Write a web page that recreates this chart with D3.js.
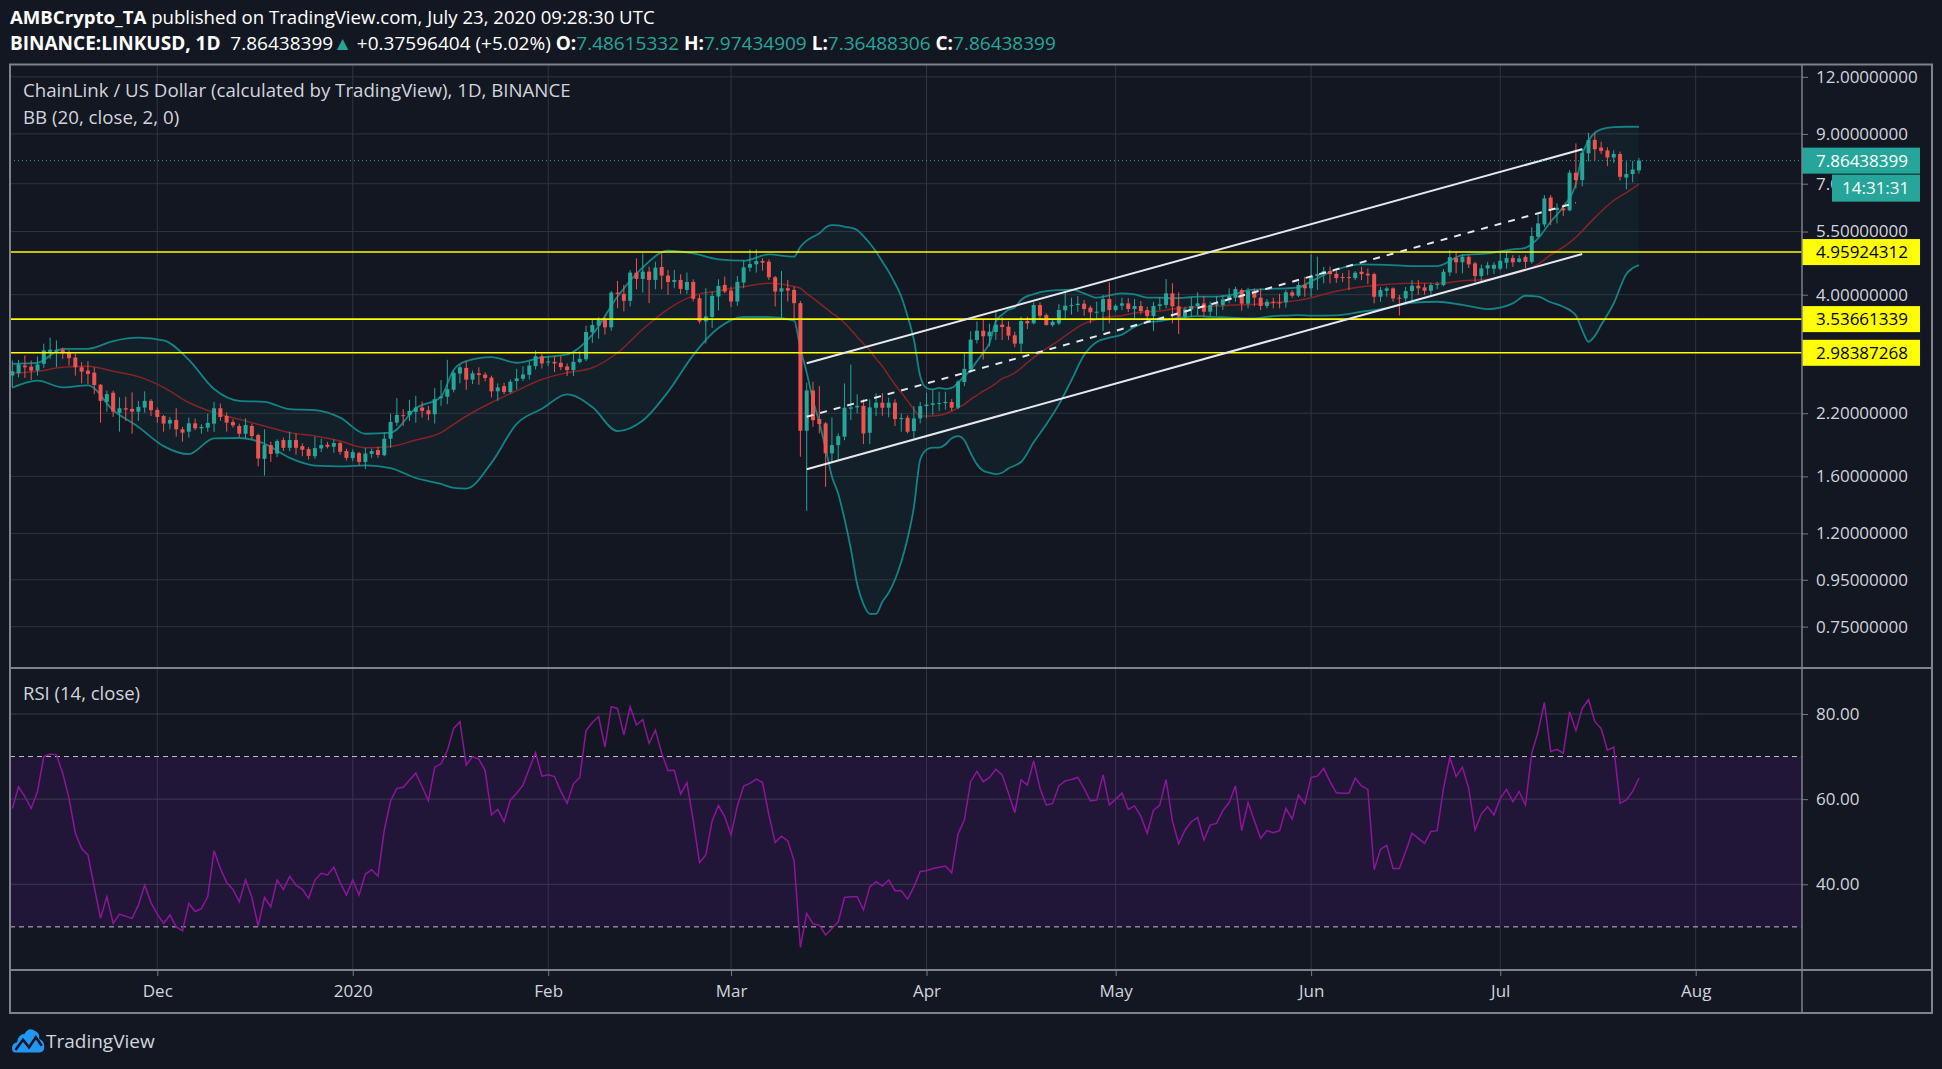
<!DOCTYPE html>
<html>
<head>
<meta charset="utf-8">
<script src="https://cdn.jsdelivr.net/npm/d3@7"></script>
<style>
body { margin:0; background:#131722; }
svg text { font-family: "Open Sans", "Noto Sans", sans-serif; }
</style>
</head>
<body>
<div id="chart-area"></div>
<script>

// ---- DATA ----
var firstDay = "2019-11-08"

var openP = [2.660,2.691,2.797,2.783,2.728,2.822,2.999,3.005,3.030,2.984,2.914,2.774,2.728,2.700,2.540,2.330,2.440,2.204,2.256,2.249,
2.218,2.264,2.342,2.237,2.170,2.088,2.127,2.029,2.005,2.091,2.039,2.046,2.088,2.256,2.170,2.105,2.063,1.984,2.063,1.971,
1.748,1.874,1.795,1.922,1.848,1.922,1.864,1.836,1.771,1.842,1.877,1.858,1.893,1.818,1.754,1.799,1.721,1.792,1.827,1.780,
1.935,2.098,2.178,2.178,2.215,2.264,2.233,2.189,2.375,2.391,2.477,2.687,2.765,2.606,2.691,2.673,2.633,2.457,2.523,2.448,
2.587,2.618,2.671,2.790,2.933,2.842,2.851,2.837,2.785,2.734,2.847,2.889,3.309,3.421,3.526,3.393,4.043,4.017,3.878,4.471,
4.331,4.494,4.309,4.599,4.404,4.266,4.309,4.098,4.266,3.930,3.496,3.574,3.963,4.202,4.084,3.865,4.252,4.584,4.661,4.740,
4.724,4.368,4.064,4.132,4.098,3.833,2.014,2.468,2.137,2.090,1.797,1.873,1.955,2.251,2.266,2.284,1.994,2.262,2.320,2.262,
2.320,2.136,2.151,2.011,2.143,2.280,2.295,2.309,2.316,2.328,2.262,2.575,2.743,3.183,3.336,3.243,3.314,3.439,3.404,3.259,
3.125,3.503,3.462,3.797,3.610,3.433,3.462,3.696,3.785,3.797,3.823,3.747,3.659,3.671,3.913,3.702,3.785,3.829,3.722,3.778,
3.702,3.592,3.778,3.797,4.027,3.772,3.580,3.709,3.778,3.829,3.671,3.797,3.797,3.907,3.940,4.095,3.823,4.074,3.940,3.778,
3.861,3.848,3.848,4.047,3.980,4.199,4.130,4.394,4.438,4.506,4.446,4.372,4.372,4.349,4.491,4.446,4.438,3.959,4.080,4.129,
3.940,3.926,4.074,4.185,4.150,4.080,4.199,4.199,4.476,4.812,4.710,4.843,4.683,4.394,4.566,4.560,4.560,4.700,4.812,4.720,
4.840,4.720,5.358,5.700,6.530,6.130,6.180,6.120,7.400,7.130,8.160,8.730,8.400,8.280,7.990,8.130,7.220,7.350,7.48615332]

var highP = [2.870,2.880,2.944,2.870,2.929,3.124,3.220,3.177,3.060,3.020,2.969,2.846,2.860,2.774,2.549,2.465,2.465,2.383,2.391,2.444,
2.342,2.457,2.362,2.264,2.181,2.159,2.256,2.053,2.152,2.141,2.081,2.196,2.330,2.311,2.207,2.134,2.088,2.145,2.088,1.984,
2.029,1.906,1.929,1.945,2.005,1.988,1.890,1.855,1.955,1.935,1.903,1.929,1.906,1.839,1.833,1.811,1.848,1.842,1.858,1.995,
2.196,2.375,2.245,2.354,2.403,2.334,2.283,2.498,2.602,2.880,2.728,2.807,2.860,2.728,2.774,2.705,2.660,2.558,2.566,2.609,
2.752,2.790,2.861,3.018,2.968,2.933,2.933,2.943,2.828,2.983,3.008,3.421,3.538,3.568,3.574,4.077,4.288,4.202,4.531,4.804,
4.926,4.607,4.724,4.926,4.531,4.531,4.434,4.471,4.324,3.996,4.132,4.064,4.324,4.382,4.167,4.397,4.764,5.026,5.026,4.804,
4.780,4.397,4.509,4.309,4.167,3.876,2.566,2.579,2.523,2.104,2.155,1.987,2.557,2.812,2.420,2.360,2.360,2.432,2.436,2.380,
2.360,2.198,2.177,2.280,2.328,2.440,2.481,2.452,2.452,2.364,2.600,2.983,3.326,3.496,3.526,3.456,3.689,3.574,3.496,3.319,
3.580,3.580,3.848,3.848,3.640,3.550,3.810,4.061,3.940,3.973,3.894,3.785,3.861,3.993,4.256,3.810,3.940,3.927,3.913,3.874,
3.766,3.861,3.953,4.327,4.235,4.047,3.766,3.953,4.047,3.973,3.861,3.973,3.993,4.130,4.164,4.130,4.144,4.130,4.130,3.913,
3.940,4.020,4.095,4.095,4.271,4.379,4.909,4.843,4.603,4.611,4.529,4.461,4.529,4.506,4.603,4.566,4.468,4.160,4.165,4.150,
3.994,4.160,4.306,4.306,4.234,4.248,4.270,4.551,5.008,4.967,4.909,4.884,4.722,4.657,4.722,4.710,4.967,4.967,4.884,4.880,
4.880,5.620,6.031,6.610,6.610,6.340,6.310,7.500,8.580,8.370,9.050,9.050,8.650,8.410,8.280,8.230,7.830,7.860,7.97434909]

var lowP = [2.506,2.637,2.628,2.602,2.660,2.765,2.894,2.774,2.894,2.798,2.660,2.558,2.549,2.423,2.098,2.218,2.159,2.005,2.116,1.984,
2.116,2.207,2.170,2.098,2.005,2.029,1.955,1.906,1.945,2.019,1.984,2.005,2.002,2.116,2.005,2.046,1.952,1.939,1.929,1.683,
1.606,1.721,1.763,1.818,1.818,1.786,1.771,1.742,1.748,1.808,1.842,1.802,1.786,1.733,1.727,1.690,1.660,1.757,1.757,1.771,
1.848,2.063,2.063,2.116,2.098,2.152,2.123,2.088,2.283,2.303,2.444,2.558,2.477,2.549,2.540,2.584,2.383,2.342,2.420,2.432,
2.481,2.587,2.609,2.743,2.757,2.790,2.707,2.734,2.653,2.653,2.828,2.861,3.136,3.205,3.270,3.336,3.738,3.677,3.770,4.112,
4.043,3.833,4.112,4.112,3.996,4.132,4.017,4.017,3.865,3.456,3.126,3.381,3.695,4.030,3.757,3.782,4.132,4.494,4.471,4.516,
4.309,3.770,3.574,3.865,3.556,1.767,1.345,2.055,1.987,1.518,1.714,1.737,1.921,2.125,2.198,1.883,1.883,2.169,2.173,2.155,
2.062,2.004,1.987,1.937,2.090,2.143,2.180,2.226,2.240,2.226,2.244,2.523,2.698,3.126,2.885,3.084,3.183,3.183,3.183,3.068,
2.976,3.364,3.445,3.538,3.422,3.403,3.433,3.550,3.616,3.671,3.598,3.462,3.550,3.330,3.462,3.671,3.702,3.665,3.544,3.622,
3.491,3.330,3.702,3.734,3.462,3.280,3.544,3.580,3.610,3.585,3.580,3.598,3.702,3.829,3.861,3.690,3.734,3.772,3.702,3.734,
3.734,3.734,3.747,3.940,3.953,3.959,3.959,4.094,4.234,4.234,4.248,4.262,4.094,4.305,4.305,4.220,3.828,3.860,3.959,3.860,
3.602,3.860,3.892,4.001,4.001,4.001,4.109,4.171,4.398,4.454,4.454,4.576,4.262,4.262,4.412,4.440,4.520,4.560,4.600,4.700,
4.570,4.680,5.340,5.620,5.680,5.730,5.950,6.090,6.840,6.900,7.830,7.870,8.130,7.650,7.780,7.110,6.800,7.050,7.36488306]

var closeP = [2.719,2.813,2.774,2.728,2.813,3.020,3.030,3.030,2.979,2.904,2.774,2.714,2.682,2.536,2.342,2.423,2.218,2.256,2.241,2.218,
2.271,2.342,2.233,2.159,2.088,2.127,2.029,1.995,2.091,2.039,2.053,2.095,2.256,2.159,2.098,2.070,1.984,2.074,1.961,1.751,
1.874,1.792,1.912,1.848,1.922,1.848,1.830,1.774,1.845,1.874,1.858,1.893,1.811,1.757,1.808,1.721,1.796,1.818,1.783,1.935,
2.105,2.181,2.170,2.226,2.264,2.226,2.189,2.362,2.391,2.485,2.696,2.774,2.606,2.691,2.669,2.628,2.457,2.506,2.448,2.579,
2.622,2.675,2.799,2.933,2.828,2.856,2.828,2.776,2.734,2.851,2.894,3.314,3.433,3.526,3.393,4.043,4.017,3.878,4.471,4.331,
4.494,4.309,4.584,4.404,4.266,4.309,4.118,4.266,3.917,3.496,3.585,3.976,4.181,4.064,3.865,4.266,4.592,4.669,4.740,4.701,
4.368,4.064,4.132,4.084,3.833,2.014,2.468,2.125,2.083,1.797,1.873,1.960,2.262,2.266,2.284,1.987,2.266,2.320,2.262,2.320,
2.136,2.147,2.004,2.143,2.280,2.298,2.312,2.316,2.330,2.262,2.579,2.752,3.189,3.336,3.243,3.320,3.439,3.398,3.254,3.125,
3.503,3.462,3.797,3.598,3.433,3.491,3.702,3.785,3.797,3.823,3.722,3.659,3.671,3.913,3.702,3.785,3.829,3.722,3.778,3.684,
3.592,3.778,3.810,4.027,3.772,3.580,3.715,3.778,3.829,3.671,3.797,3.810,3.907,3.973,4.116,3.823,4.074,3.940,3.778,3.861,
3.848,3.829,4.047,3.980,4.200,4.130,4.394,4.438,4.506,4.438,4.349,4.349,4.364,4.469,4.438,4.408,3.959,4.094,4.129,3.926,
3.926,4.074,4.185,4.130,4.080,4.199,4.220,4.491,4.833,4.710,4.843,4.660,4.394,4.566,4.643,4.650,4.747,4.812,4.710,4.800,
4.720,5.375,5.731,6.500,6.130,6.200,6.120,7.400,7.130,8.180,8.730,8.330,8.260,7.990,8.130,7.250,7.350,7.520,7.86438399]

var rsiValues = [57.8,62.9,60.6,57.8,61.8,70.0,70.6,70.4,66.1,60.2,
52.0,48.4,46.9,39.4,32.0,37.1,30.8,33.0,32.5,32.0,
35.1,39.8,35.7,33.0,30.8,32.8,30.0,29.1,35.5,33.6,
34.3,37.1,47.9,43.7,40.4,38.8,35.9,41.0,36.9,30.2,
36.9,34.7,41.0,38.8,41.9,39.8,38.8,36.7,41.0,42.6,
42.2,44.0,40.4,37.5,41.0,37.5,42.4,43.4,41.9,52.7,
59.6,62.5,62.8,64.5,66.1,62.9,59.6,67.5,68.3,71.4,
76.6,78.2,68.0,70.0,69.4,66.7,56.3,57.6,54.7,59.8,
61.4,63.3,67.2,70.9,65.4,65.7,65.3,61.8,59.0,63.6,
65.1,76.1,78.0,79.4,72.2,81.7,81.3,75.1,81.7,77.4,
78.7,73.1,76.2,70.8,66.7,66.8,61.2,63.9,55.1,45.1,
46.9,54.9,58.5,55.9,51.6,58.4,63.1,63.7,64.7,63.9,
56.3,49.8,51.3,50.2,45.5,25.2,33.2,30.7,30.4,28.1,
29.6,31.2,36.9,37.1,37.1,34.0,39.4,40.6,39.6,41.0,
38.5,38.5,36.5,39.4,43.0,43.2,43.7,44.0,44.3,42.7,
51.8,55.1,64.1,
66.5,64.1,65.1,67.0,65.7,61.4,56.8,64.5,63.3,69.0,
62.5,58.6,59.0,63.1,64.3,64.6,65.1,62.5,59.6,59.8,
65.7,58.6,60.0,61.4,57.6,58.4,56.0,52.0,57.4,58.6,
64.6,54.9,49.5,52.7,54.7,55.7,50.4,53.9,54.3,57.3,
59.2,63.1,52.6,59.2,54.9,50.8,52.6,52.1,52.6,57.8,
55.3,61.0,58.9,65.1,65.4,67.2,64.1,61.5,61.4,61.4,
64.9,63.1,62.3,43.4,48.2,49.2,43.7,43.7,47.7,52.0,
50.8,49.6,52.4,52.6,62.5,69.8,65.3,67.5,62.5,52.7,
56.5,58.2,56.3,60.2,62.3,59.4,61.8,58.6,70.8,75.8,
82.7,71.2,71.7,70.8,80.5,76.1,81.3,83.4,78.2,76.6,
71.5,72.2,59.0,59.8,61.8,64.9]

// Bollinger Bands (20, close, 2) read at sample days
var bbDates = ["2019-11-08","2019-11-12","2019-11-16","2019-11-20","2019-11-24","2019-11-28","2019-12-02","2019-12-06","2019-12-10","2019-12-14",
"2019-12-18","2019-12-22","2019-12-26","2019-12-30","2020-01-03","2020-01-07","2020-01-11","2020-01-15","2020-01-17","2020-01-19",
"2020-01-23","2020-01-27","2020-01-31","2020-02-04","2020-02-08","2020-02-12","2020-02-16","2020-02-20","2020-02-24","2020-02-28",
"2020-03-03","2020-03-07","2020-03-11",
"2020-03-12","2020-03-13","2020-03-14","2020-03-15","2020-03-16","2020-03-17","2020-03-18","2020-03-19","2020-03-20","2020-03-21",
"2020-03-22","2020-03-23","2020-03-24","2020-03-25","2020-03-26","2020-03-27","2020-03-28","2020-03-29","2020-03-30","2020-03-31",
"2020-04-01","2020-04-02","2020-04-03","2020-04-04","2020-04-05","2020-04-06","2020-04-07","2020-04-08","2020-04-09","2020-04-10",
"2020-04-11","2020-04-12","2020-04-13","2020-04-14","2020-04-15",
"2020-04-16","2020-04-18","2020-04-20","2020-04-22","2020-04-24","2020-04-26","2020-04-28","2020-04-30","2020-05-02","2020-05-04",
"2020-05-06","2020-05-08","2020-05-10","2020-05-12","2020-05-14","2020-05-16","2020-05-18","2020-05-20","2020-05-22","2020-05-24",
"2020-05-26","2020-05-28","2020-05-30","2020-06-01",
"2020-06-05","2020-06-09","2020-06-13","2020-06-17","2020-06-21","2020-06-25","2020-06-29","2020-07-03","2020-07-05","2020-07-07",
"2020-07-09","2020-07-11","2020-07-13","2020-07-14","2020-07-15","2020-07-16","2020-07-17","2020-07-19","2020-07-21","2020-07-23"]

var bbUpper = [2.822,2.837,3.045,3.045,3.166,3.220,3.177,2.880,2.486,2.342,2.330,2.245,2.234,2.152,1.984,1.995,2.256,2.391,2.737,2.860,
2.919,2.838,2.915,2.959,3.270,3.963,4.592,4.992,4.926,4.780,4.748,4.900,4.844,
5.094,5.253,5.358,5.449,5.615,5.681,5.672,5.634,5.606,5.540,5.376,5.184,4.967,4.724,4.494,4.238,3.963,3.585,3.189,2.653,
2.499,2.481,2.499,2.488,2.499,2.566,2.653,2.734,2.861,2.983,3.136,3.496,3.616,3.707,3.751,
3.894,4.013,4.074,4.095,4.102,4.027,3.940,3.987,4.027,4.007,3.940,3.940,3.927,3.940,3.960,3.960,3.973,4.013,4.095,4.109,
4.123,4.130,4.151,4.280,
4.539,4.660,4.650,4.621,4.621,4.885,4.926,5.026,5.068,5.313,5.779,6.233,7.011,8.100,8.700,9.050,9.210,9.310,9.330,9.330]

var bbBasis = [2.691,2.719,2.774,2.788,2.719,2.646,2.506,2.322,2.207,2.134,2.063,1.995,1.961,1.912,1.848,1.861,1.922,1.995,2.081,2.167,
2.322,2.465,2.609,2.698,2.767,2.985,3.360,3.720,3.977,4.077,4.167,4.238,4.167,
4.132,4.023,3.930,3.833,3.738,3.646,3.568,3.467,3.353,3.232,3.126,3.023,2.894,2.790,2.661,2.543,2.440,2.341,2.242,2.169,
2.169,2.169,2.177,2.195,2.225,2.262,2.301,2.360,2.408,2.461,2.502,2.557,2.619,2.653,2.698,
2.762,2.917,3.047,3.176,3.323,3.458,3.528,3.579,3.598,3.647,3.671,3.684,3.722,3.747,3.759,3.766,3.785,3.797,3.803,3.816,
3.842,3.861,3.887,3.939,
4.072,4.163,4.212,4.238,4.234,4.291,4.324,4.440,4.523,4.666,4.887,5.082,5.342,5.516,5.710,5.893,6.087,6.432,6.692,6.986]

var bbLower = [2.502,2.593,2.506,2.532,2.234,2.053,1.864,1.790,1.939,1.942,1.886,1.757,1.690,1.683,1.692,1.669,1.587,1.540,1.510,1.505,
1.713,2.085,2.250,2.420,2.270,2.010,2.120,2.450,2.950,3.380,3.574,3.574,3.508,
3.05,2.70,2.35,2.10,1.84,1.60,1.465,1.29,1.11,0.93,0.84,0.80,0.80,0.85,0.89,0.95,1.04,1.17,1.37,1.74,
1.83,1.85,1.85,1.88,1.94,1.96,1.92,1.80,1.70,1.646,1.630,1.619,1.630,1.666,1.69,
1.72,1.90,2.08,2.30,2.60,2.95,3.15,3.22,3.27,3.40,3.48,3.50,3.54,3.57,3.59,3.578,3.57,3.56,3.55,3.56,
3.59,3.60,3.61,3.60,
3.605,3.670,3.740,3.841,3.860,3.800,3.720,3.828,3.979,3.959,3.850,3.764,3.600,3.346,3.155,3.250,3.432,3.829,4.440,4.645]

var levelPrices = [4.95924312, 3.53661339, 2.98387268]
var lastPrice = 7.86438399
var countdown = "14:31:31"

// trend channel drawn by the author: [date, price]
var channelTop = [["2020-03-13", 2.830], ["2020-07-14", 8.326]]
var channelBottom = [["2020-03-13", 1.658], ["2020-07-14", 4.911]]
var channelMid = [["2020-03-13", 2.161], ["2020-07-13", 6.360]]

var priceTicks = [0.75, 0.95, 1.2, 1.6, 2.2, 4, 5.5, 7, 9, 12]
var rsiTicks = [40, 60, 80]
var rsiBands = [70, 30]
var monthDates = ["2019-12-01","2020-01-01","2020-02-01","2020-03-01","2020-04-01","2020-05-01","2020-06-01","2020-07-01","2020-08-01"]
var monthLabels = ["Dec","2020","Feb","Mar","Apr","May","Jun","Jul","Aug"]

// ---- LAYOUT ----
var W = 1942, H = 1069
var frameL = 10, frameR = 1932, frameT = 64.5, frameB = 1013
var axisX = 1802, split = 668, timeTop = 970
var bg = '#131722', grid = '#2f3440', txt = '#d1d4dc', up = '#26a69a', down = '#ef5350'
var axisFont = 17, legendFont = 18.7, headFont = 19

var parse = d3.utcParse('%Y-%m-%d')
var start = parse(firstDay)

var svg = d3.select('#chart-area').append('svg')
	.attr('width', W).attr('height', H)
svg.append('rect').attr('width', W).attr('height', H).attr('fill', bg)

// scales
var x = d3.scaleUtc()
	.domain([parse(monthDates[0]), parse(monthDates[8])])
	.range([157.3, 1695.7])
var y = d3.scaleLog().domain([0.6088, 12.77]).range([split, frameT])
var yRsi = d3.scaleLinear().domain([19.87, 90.8]).range([timeTop, split])

var candles = closeP.map(function(c, i){
	return {date: d3.utcDay.offset(start, i), o: openP[i], h: highP[i], l: lowP[i], c: c, rsi: rsiValues[i]}
})
var bb = bbDates.map(function(d, i){
	return {date: parse(d), u: bbUpper[i], m: bbBasis[i], l: bbLower[i]}
})

// clip paths
var defs = svg.append('defs')
defs.append('clipPath').attr('id', 'mainClip').append('rect')
	.attr('x', frameL).attr('y', frameT).attr('width', axisX - frameL).attr('height', split - frameT)
defs.append('clipPath').attr('id', 'rsiClip').append('rect')
	.attr('x', frameL).attr('y', split).attr('width', axisX - frameL).attr('height', timeTop - split)

// ---- HEADER ----
var h1 = svg.append('text').attr('x', 10).attr('y', 24).attr('font-size', 18.6).attr('fill', '#ffffff').style('white-space', 'pre')
h1.append('tspan').attr('font-weight', 'bold').text('AMBCrypto_TA')
h1.append('tspan').text(' published on TradingView.com, July 23, 2020 09:28:30 UTC')

var h2 = svg.append('text').attr('x', 10).attr('y', 50).attr('font-size', headFont).attr('fill', '#ffffff').style('white-space', 'pre')
h2.append('tspan').attr('font-weight', 'bold').text('BINANCE:LINKUSD, 1D')
h2.append('tspan').text('  7.86438399')
h2.append('tspan').attr('fill', up).text('▲')
h2.append('tspan').text(' +0.37596404 (+5.02%) ')
var ohlcLabels = [['O:', '7.48615332'], [' H:', '7.97434909'], [' L:', '7.36488306'], [' C:', '7.86438399']]
ohlcLabels.forEach(function(p){
	h2.append('tspan').attr('font-weight', 'bold').text(p[0])
	h2.append('tspan').attr('fill', up).text(p[1])
})

// ---- GRID ----
var gridG = svg.append('g')
gridG.selectAll('.hg').data(priceTicks).enter().append('line')
	.attr('x1', frameL).attr('x2', axisX)
	.attr('y1', function(d){ return y(d) }).attr('y2', function(d){ return y(d) })
	.attr('stroke', grid).attr('stroke-width', 1)
gridG.selectAll('.vg').data(monthDates).enter().append('line')
	.attr('x1', function(d){ return x(parse(d)) }).attr('x2', function(d){ return x(parse(d)) })
	.attr('y1', frameT).attr('y2', timeTop)
	.attr('stroke', grid).attr('stroke-width', 1)

// ---- MAIN PANE ----
var main = svg.append('g').attr('clip-path', 'url(#mainClip)')

// BB fill and lines
main.append('path').datum(bb)
	.attr('d', d3.area().x(function(d){ return x(d.date) }).y0(function(d){ return y(d.l) }).y1(function(d){ return y(d.u) }).curve(d3.curveMonotoneX))
	.attr('fill', 'rgba(25,135,135,0.07)')
var bandLine = function(key){
	return d3.line().x(function(d){ return x(d.date) }).y(function(d){ return y(d[key]) }).curve(d3.curveMonotoneX)
}
main.append('path').datum(bb).attr('d', bandLine('u')).attr('fill', 'none').attr('stroke', '#138484').attr('stroke-width', 1.8)
main.append('path').datum(bb).attr('d', bandLine('l')).attr('fill', 'none').attr('stroke', '#138484').attr('stroke-width', 1.8)
main.append('path').datum(bb).attr('d', bandLine('m')).attr('fill', 'none').attr('stroke', '#872323').attr('stroke-width', 1.5)

// candles
var cw = 4
var cg = main.selectAll('.candle').data(candles).enter().append('g')
cg.append('line')
	.attr('x1', function(d){ return x(d.date) }).attr('x2', function(d){ return x(d.date) })
	.attr('y1', function(d){ return y(d.h) }).attr('y2', function(d){ return y(d.l) })
	.attr('stroke', function(d){ return d.c >= d.o ? up : down }).attr('stroke-width', 1)
cg.append('rect')
	.attr('x', function(d){ return x(d.date) - cw / 2 })
	.attr('y', function(d){ return y(Math.max(d.o, d.c)) })
	.attr('width', cw)
	.attr('height', function(d){ return Math.max(1, y(Math.min(d.o, d.c)) - y(Math.max(d.o, d.c))) })
	.attr('fill', function(d){ return d.c >= d.o ? up : down })

// horizontal levels
main.selectAll('.lvl').data(levelPrices).enter().append('line')
	.attr('x1', frameL).attr('x2', axisX)
	.attr('y1', function(d){ return y(d) }).attr('y2', function(d){ return y(d) })
	.attr('stroke', '#ffff00').attr('stroke-width', 1.6)

// channel
var chLine = d3.line().x(function(d){ return x(parse(d[0])) }).y(function(d){ return y(d[1]) })
main.append('path').datum(channelTop).attr('d', chLine).attr('stroke', '#e6e8ee').attr('stroke-width', 2).attr('fill', 'none')
main.append('path').datum(channelBottom).attr('d', chLine).attr('stroke', '#e6e8ee').attr('stroke-width', 2).attr('fill', 'none')
main.append('path').datum(channelMid).attr('d', chLine).attr('stroke', '#e6e8ee').attr('stroke-width', 2)
	.attr('stroke-dasharray', '7,7').attr('fill', 'none')

// last price line
main.append('line').attr('x1', frameL).attr('x2', axisX)
	.attr('y1', y(lastPrice)).attr('y2', y(lastPrice))
	.attr('stroke', up).attr('stroke-width', 1).attr('stroke-dasharray', '1,3')

// legend
svg.append('text').attr('x', 23).attr('y', 97).attr('font-size', legendFont).attr('fill', txt)
	.text('ChainLink / US Dollar (calculated by TradingView), 1D, BINANCE')
svg.append('text').attr('x', 23).attr('y', 124).attr('font-size', legendFont).attr('fill', txt)
	.text('BB (20, close, 2, 0)')

// ---- RSI PANE ----
var rsiG = svg.append('g').attr('clip-path', 'url(#rsiClip)')
rsiG.append('rect').attr('x', frameL).attr('width', axisX - frameL)
	.attr('y', yRsi(rsiBands[0])).attr('height', yRsi(rsiBands[1]) - yRsi(rsiBands[0]))
	.attr('fill', 'rgba(153,21,255,0.1)')
rsiG.selectAll('.rg').data(rsiTicks).enter().append('line')
	.attr('x1', frameL).attr('x2', axisX)
	.attr('y1', function(d){ return yRsi(d) }).attr('y2', function(d){ return yRsi(d) })
	.attr('stroke', '#3a3d4a').attr('stroke-width', 1)
rsiG.selectAll('.rb').data(rsiBands).enter().append('line')
	.attr('x1', frameL).attr('x2', axisX)
	.attr('y1', function(d){ return yRsi(d) }).attr('y2', function(d){ return yRsi(d) })
	.attr('stroke', '#c0c0c0').attr('stroke-width', 1).attr('stroke-dasharray', '5,4')
rsiG.append('path').datum(candles)
	.attr('d', d3.line().x(function(d){ return x(d.date) }).y(function(d){ return yRsi(d.rsi) }))
	.attr('fill', 'none').attr('stroke', '#8e1599').attr('stroke-width', 1.5)
svg.append('text').attr('x', 23).attr('y', 700).attr('font-size', 18.5).attr('fill', txt).text('RSI (14, close)')

// ---- AXES ----
var fmt8 = d3.format('.8f')
var styleAxis = function(g){
	g.select('.domain').remove()
	g.selectAll('line').attr('stroke', '#787b86')
	g.selectAll('text').attr('fill', txt).attr('font-size', axisFont).attr('font-family', '"Open Sans", sans-serif')
}
svg.append('g').attr('transform', 'translate(' + axisX + ',0)')
	.call(d3.axisRight(y).tickValues(priceTicks).tickFormat(fmt8).tickSize(6).tickPadding(8))
	.call(styleAxis)
svg.append('g').attr('transform', 'translate(' + axisX + ',0)')
	.call(d3.axisRight(yRsi).tickValues(rsiTicks).tickFormat(d3.format('.2f')).tickSize(6).tickPadding(8))
	.call(styleAxis)
svg.append('g').attr('transform', 'translate(0,' + timeTop + ')')
	.call(d3.axisBottom(x).tickValues(monthDates.map(parse)).tickFormat(function(d, i){ return monthLabels[i] }).tickSize(6).tickPadding(9))
	.call(styleAxis)

// price labels on the axis
var boxW = 118, boxH = 26
var lvlLab = svg.selectAll('.lvlLab').data(levelPrices).enter().append('g')
lvlLab.append('rect').attr('x', axisX).attr('y', function(d){ return y(d) - boxH / 2 })
	.attr('width', boxW).attr('height', boxH).attr('fill', '#ffff00')
lvlLab.append('text').attr('x', axisX + 14).attr('y', function(d){ return y(d) }).attr('dy', '0.35em')
	.attr('font-size', axisFont).attr('fill', '#000').text(function(d){ return fmt8(d) })

svg.append('rect').attr('x', axisX).attr('y', y(lastPrice) - boxH / 2).attr('width', boxW).attr('height', boxH).attr('fill', up)
svg.append('text').attr('x', axisX + 14).attr('y', y(lastPrice)).attr('dy', '0.35em')
	.attr('font-size', axisFont).attr('fill', '#fff').text(fmt8(lastPrice))
svg.append('rect').attr('x', axisX + 30).attr('y', y(lastPrice) + boxH / 2 + 1).attr('width', boxW - 30).attr('height', boxH + 1).attr('fill', up)
svg.append('text').attr('x', axisX + 40).attr('y', y(lastPrice) + boxH + 1).attr('dy', '0.35em')
	.attr('font-size', axisFont).attr('fill', '#fff').text(countdown)

// ---- FRAME ----
var frameG = svg.append('g').attr('stroke', '#7f828c').attr('fill', 'none')
frameG.append('rect').attr('x', frameL).attr('y', frameT).attr('width', frameR - frameL).attr('height', frameB - frameT).attr('stroke-width', 2)
frameG.append('line').attr('x1', axisX).attr('x2', axisX).attr('y1', frameT).attr('y2', frameB).attr('stroke-width', 1.5)
frameG.append('line').attr('x1', frameL).attr('x2', frameR).attr('y1', split).attr('y2', split).attr('stroke-width', 2)
frameG.append('line').attr('x1', frameL).attr('x2', frameR).attr('y1', timeTop).attr('y2', timeTop).attr('stroke-width', 2)

// ---- TRADINGVIEW LOGO ----
var logo = svg.append('g').attr('transform', 'translate(12,1027) scale(0.85)')
logo.append('path')
	.attr('d', 'M4,30 Q0,30 0,25 Q0,19 6,18 Q7,9 15,8 Q19,0 26,4 Q33,6 32,14 Q38,16 38,23 Q38,30 32,30 Z')
	.attr('fill', '#2196f3')
logo.append('path').attr('d', 'M4,27 L13,15 L20,24 L28,12 L35,22')
	.attr('fill', 'none').attr('stroke', '#131722').attr('stroke-width', 3)
svg.append('text').attr('x', 46).attr('y', 1048).attr('font-size', 19).attr('fill', txt).text('TradingView')

</script>
</body>
</html>
